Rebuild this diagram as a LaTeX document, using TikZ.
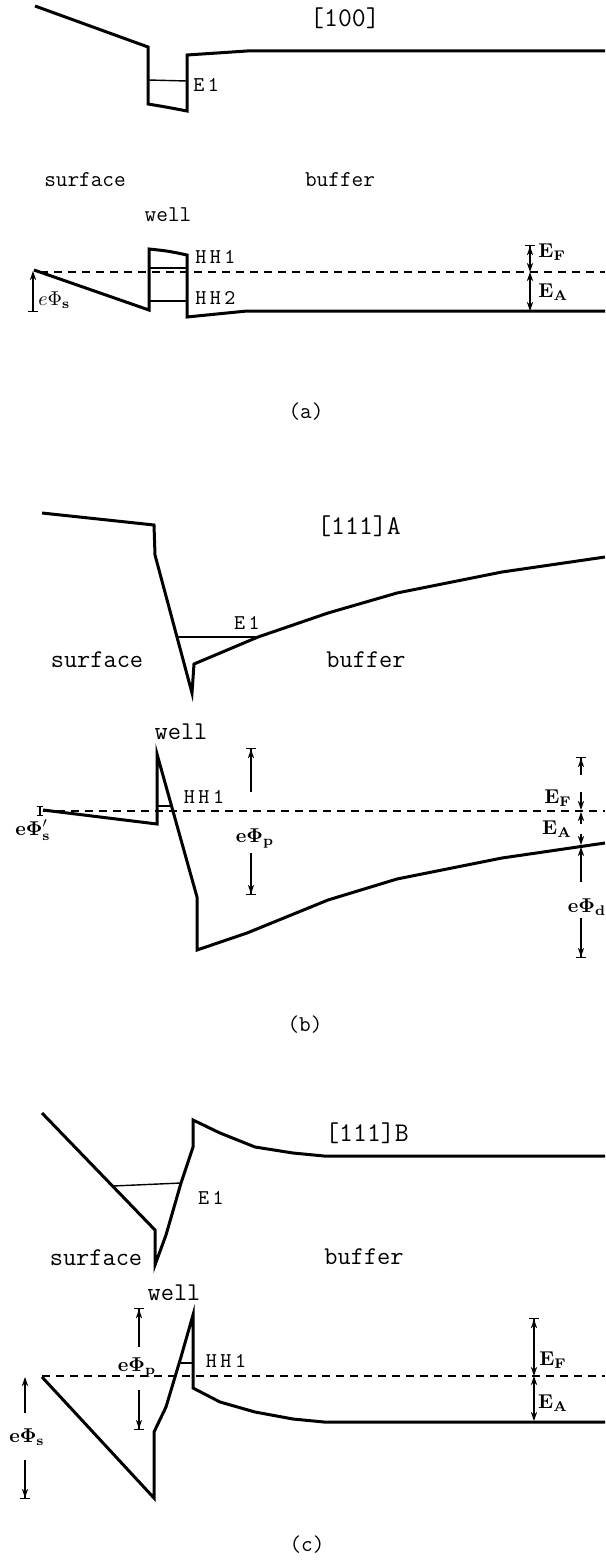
\documentclass[tikz,border=0pt]{standalone}
\usepackage{amsmath,amssymb}
\usetikzlibrary{arrows.meta}

\begin{document}
\begin{tikzpicture}[>={Stealth[length=1.6mm,width=1.1mm]},x=0.5pt,y=-0.5pt,
  band/.style={line width=1.5pt,line join=miter},level/.style={line width=0.7pt},
  fermi/.style={line width=0.6pt,dash pattern=on 4pt off 3pt},dim/.style={line width=0.6pt},
  tipbar/.style={dim,-{Stealth[length=1.6mm,width=1.1mm]Bar[width=1.6mm]}},
  bartips/.style={dim,{Bar[width=1.6mm]Stealth[length=1.6mm,width=1.1mm]}-{Stealth[length=1.6mm,width=1.1mm]}},
  lbl/.style={font=\fontsize{11.3}{13}\selectfont\ttfamily,inner sep=0pt},
  lblb/.style={font=\fontsize{12.8}{15}\selectfont\ttfamily,inner sep=0pt},
  hdr/.style={font=\fontsize{13.5}{15}\selectfont\ttfamily,inner sep=0pt},
  lev/.style={font=\fontsize{10.5}{12}\selectfont\ttfamily,inner sep=0pt},
  en/.style={font=\fontsize{10}{12}\selectfont,inner sep=0pt}]
\useasboundingbox (0,0) rectangle (605,1568);
% (a) [100]
\draw[band] (35,6) -- (148,47) -- (148,104) .. controls (166,107) .. (187,111) -- (187,55) -- (247,51) -- (605,51);
\draw[level] (148,80) -- (187,81);
\node[hdr] (hA) at (345,18) {[100]}; \node[lev,anchor=west] (e1A) at (193,85) {E\,1};
\node[lbl] (surfA) at (85,180) {surface}; \node[lbl] (bufA) at (340,180) {buffer}; \node[lbl] (wellA) at (168,215) {well};
\draw[band] (34,270) -- (149,310) -- (149,249) .. controls (168,251) .. (187,255) -- (187,317) -- (247,311) -- (605,311);
\draw[level] (149,268) -- (187,268); \draw[level] (149,301) -- (187,301);
\draw[fermi] (40,272) -- (605,272);
\node[lev,anchor=west] (hh1A) at (195,257) {H\,H\,1}; \node[lev,anchor=west] (hh2A) at (195,298) {H\,H\,2};
\coordinate (sA1) at (33,312); \coordinate (sA2) at (33,271);
\draw[dim,{Bar[width=1.6mm]}->] (sA1) -- (sA2); \node[en,anchor=west] (phisA) at (38,300) {$e\Phi_{\mathbf s}$};
\coordinate (fA1) at (530,245); \coordinate (fA2) at (530,272); \coordinate (fA3) at (530,311);
\draw[bartips] (fA1) -- (fA2); \draw[dim,<->] (fA2) -- (fA3);
\node[en,anchor=west] (efA) at (538,252) {$\mathbf{E}_{\mathbf F}$}; \node[en,anchor=west] (eaA) at (538,292) {$\mathbf{E}_{\mathbf A}$};
\node[lbl] (capA) at (306,412) {(a)};
% (b) [111]A
\draw[band] (42,513) -- (154,525) -- (155,555) -- (192,693) -- (194,664) -- (258,637) -- (328,613) -- (397,593) -- (502,572) -- (605,557);
\draw[level] (177,637) -- (258,637);
\node[hdr] (hB) at (359,526) {[111]A}; \node[lev] (e1B) at (247,623) {E\,1};
\node[lblb] (surfB) at (97,660) {surface}; \node[lblb] (bufB) at (366,660) {buffer}; \node[lblb] (wellB) at (181,732) {well};
\draw[band] (43,810) -- (157,824) -- (157,754) -- (197,897) -- (197,950) -- (247,933) -- (328,900) -- (397,879) -- (502,858) -- (605,843);
\draw[level] (157,806) -- (171,806);
\draw[fermi] (43,811) -- (605,811);
\node[lev] (hh1B) at (204,797) {H\,H\,1};
\coordinate (sB1) at (40,806); \coordinate (sB2) at (40,816);
\draw[dim,{Bar[width=1.2mm]}-{Bar[width=1.2mm]}] (sB1) -- (sB2); \node[en] (phisB) at (33,830) {$\mathbf{e\Phi}'_{\mathbf s}$};
\coordinate (pB1) at (251,792); \coordinate (pB2) at (251,748); \coordinate (pB3) at (251,853); \coordinate (pB4) at (251,895);
\draw[tipbar] (pB1) -- (pB2); \draw[tipbar] (pB3) -- (pB4); \node[en] (phipB) at (255,838) {$\mathbf{e\Phi}_{\mathbf p}$};
\coordinate (rB1) at (581,775); \coordinate (rB2) at (581,757); \coordinate (rB3) at (581,792); \coordinate (rB4) at (581,810);
\coordinate (rB5) at (581,824); \coordinate (rB6) at (581,812); \coordinate (rB7) at (581,834); \coordinate (rB8) at (581,845);
\coordinate (rB9) at (581,882); \coordinate (rB10) at (581,847); \coordinate (rB11) at (581,918); \coordinate (rB12) at (581,958);
\draw[tipbar] (rB1) -- (rB2); \draw[dim,->] (rB3) -- (rB4); \draw[dim,->] (rB5) -- (rB6); \draw[dim,->] (rB7) -- (rB8);
\draw[dim,->] (rB9) -- (rB10); \draw[tipbar] (rB11) -- (rB12);
\node[en] (efB) at (558,798) {$\mathbf{E}_{\mathbf F}$}; \node[en] (eaB) at (557,829) {$\mathbf{E}_{\mathbf A}$};
\node[en] (phidB) at (587,907) {$\mathbf{e\Phi}_{\mathbf d}$};
\node[lbl] (capB) at (305,1025) {(b)};
% (c) [111]B
\draw[band] (42,1113) -- (155,1230) -- (155,1265) -- (166,1235) -- (181,1183) -- (193,1147) -- (193,1120) -- (220,1133) -- (255,1147) -- (293,1153) -- (324,1156) -- (605,1156);
\draw[level] (113,1186) -- (181,1183);
\node[hdr] (hC) at (367,1133) {[111]B}; \node[lev] (e1C) at (211,1198) {E\,1};
\node[lblb] (surfC) at (96,1258) {surface}; \node[lblb] (bufC) at (364,1257) {buffer}; \node[lblb] (wellC) at (174,1293) {well};
\draw[band] (42,1377) -- (154,1498) -- (154,1432) -- (166,1407) -- (181,1357) -- (193,1315) -- (193,1388) -- (220,1402) -- (255,1412) -- (293,1419) -- (324,1422) -- (605,1422);
\draw[level] (179,1363) -- (193,1363);
\draw[fermi] (42,1376) -- (605,1376);
\node[lev] (hh1C) at (226,1361) {H\,H\,1};
\coordinate (pC1) at (139,1347); \coordinate (pC2) at (139,1308); \coordinate (pC3) at (139,1390); \coordinate (pC4) at (139,1430);
\draw[tipbar] (pC1) -- (pC2); \draw[tipbar] (pC3) -- (pC4); \node[en] (phipC) at (137,1367) {$\mathbf{e\Phi}_{\mathbf p}$};
\coordinate (sC1) at (25,1413); \coordinate (sC2) at (25,1377); \coordinate (sC3) at (25,1460); \coordinate (sC4) at (25,1499);
\draw[dim,->] (sC1) -- (sC2); \draw[tipbar] (sC3) -- (sC4); \node[en] (phisC) at (27,1437) {$\mathbf{e\Phi}_{\mathbf s}$};
\coordinate (fC1) at (534,1318); \coordinate (fC2) at (534,1376); \coordinate (fC3) at (534,1421);
\draw[bartips] (fC1) -- (fC2); \draw[dim,<->] (fC2) -- (fC3);
\node[en] (efC) at (553,1360) {$\mathbf{E}_{\mathbf F}$}; \node[en] (eaC) at (553,1403) {$\mathbf{E}_{\mathbf A}$};
\node[lbl] (capC) at (307,1545) {(c)};
\end{tikzpicture}
\end{document}
